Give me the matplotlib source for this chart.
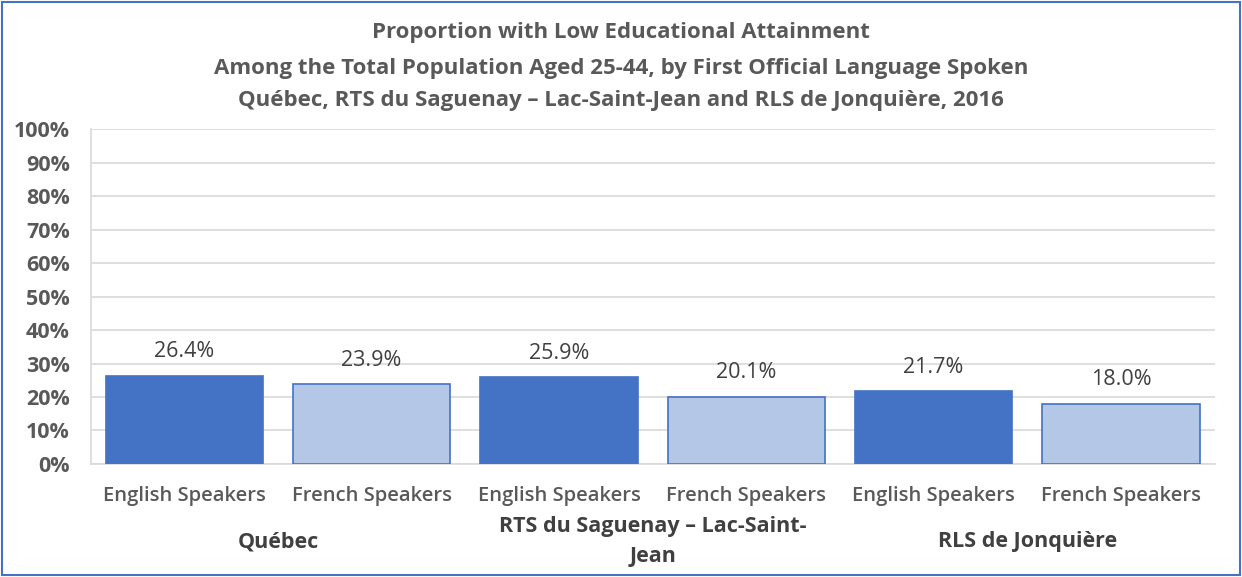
import matplotlib
matplotlib.use("Agg")
import matplotlib.pyplot as plt
from matplotlib.patches import Rectangle

regions = ["Québec", "RTS du Saguenay – Lac-Saint-\nJean", "RLS de Jonquière"]
speakers = ["English Speakers", "French Speakers"]
values = [26.4, 23.9, 25.9, 20.1, 21.7, 18.0]
title_lines = [
    "Proportion with Low Educational Attainment",
    "Among the Total Population Aged 25-44, by First Official Language Spoken",
    "Québec, RTS du Saguenay – Lac-Saint-Jean and RLS de Jonquière, 2016",
]

plt.rcParams['font.family'] = ['Open Sans', 'DejaVu Sans']
dark = "#4472C4"
light = "#B4C7E7"
txt = "#595959"

fig = plt.figure(figsize=(12.42, 5.77), dpi=100)
ax = fig.add_axes([0.073, 0.196, 0.905, 0.580])

x = list(range(len(values)))
colors = [dark if i % 2 == 0 else light for i in x]
bars = ax.bar(x, values, width=0.84, color=colors, edgecolor=dark, linewidth=1.2, zorder=3)
for xi, v in zip(x, values):
    ax.text(xi, v + 4.0, f"{v:.1f}%", ha="center", va="bottom", fontsize=15.5, color="#404040")

ax.set_xlim(-0.5, len(values) - 0.5)
ax.set_ylim(0, 100)
ax.set_yticks(range(0, 101, 10))
ax.set_yticklabels([f"{t}%" for t in range(0, 101, 10)], fontsize=15.5, color=txt, fontweight="bold")
ax.set_xticks(x)
ax.set_xticklabels([speakers[i % 2] for i in x], fontsize=14.5, color=txt, fontweight="semibold")
ax.tick_params(axis="y", length=0, pad=15)
ax.tick_params(axis="x", length=0, pad=16)
ax.grid(axis="y", color="#D9D9D9", linewidth=1.2, zorder=0)
for s in ["top", "right"]:
    ax.spines[s].set_visible(False)
for s in ["left", "bottom"]:
    ax.spines[s].set_color("#D9D9D9")
    ax.spines[s].set_linewidth(1.2)

for gi, reg in enumerate(regions):
    cx = gi * 2 + 0.5
    ax.text(cx, -23.3, reg, ha="center", va="center", fontsize=15.5, fontweight="bold",
            color="#404040", transform=ax.transData, linespacing=1.55, clip_on=False)

ys = [0.943, 0.882, 0.826]
for line, y in zip(title_lines, ys):
    fig.text(0.5, y, line, ha="center", va="center", fontsize=16, fontweight="bold", color=txt)

fig.patches.append(Rectangle((0.002, 0.003), 0.996, 0.994, transform=fig.transFigure,
                             fill=False, edgecolor=dark, linewidth=1.5))
fig.savefig("out.png", dpi=100)
